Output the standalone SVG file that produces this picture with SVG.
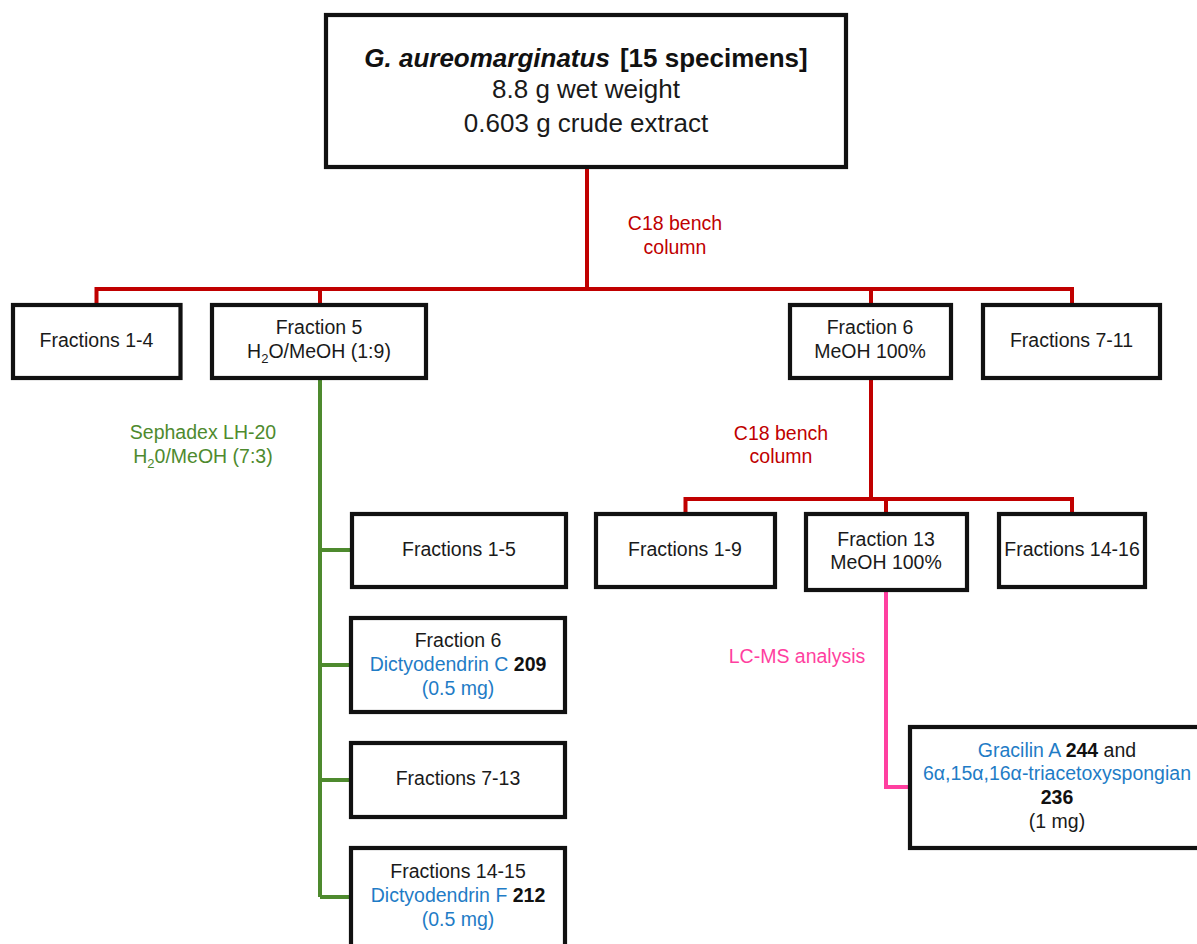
<svg xmlns="http://www.w3.org/2000/svg" width="1197" height="944" viewBox="0 0 1197 944">
  <style>
    text { font-family: "Liberation Sans", Arial, sans-serif; font-size: 19.5px; fill: #1a1a1a; text-anchor: middle; }
    .box { fill: #ffffff; stroke: #111111; stroke-width: 4.2; }
    .red { fill: none; stroke: #C00000; stroke-width: 4; }
    .green { fill: none; stroke: #4E8A2E; stroke-width: 4; }
    .pink { fill: none; stroke: #FF3FA0; stroke-width: 4; }
    .lred { fill: #C00000; }
    .lgreen { fill: #4E8A2E; }
    .lpink { fill: #FF3FA0; }
    .blue { fill: #1F7CC6; }
    .b { font-weight: bold; fill: #111111; }
    .title { font-size: 26px; }
  </style>
  <rect width="1197" height="944" fill="#ffffff"/>

  <!-- connectors -->
  <g id="connectors">
    <!-- first C18 column -->
    <path class="red" d="M587 169 V289 M96.5 306 V289 H1072 V306 M320 289 V306 M871 289 V306"/>
    <!-- second C18 column -->
    <path class="red" d="M871 380 V499 M685.5 516 V499 H1072 V516 M886 499 V516"/>
    <!-- Sephadex LH-20 -->
    <path class="green" d="M320 380 V897 M320 550 H352 M320 665 H352 M320 780 H352 M320 897 H352"/>
    <!-- LC-MS -->
    <path class="pink" d="M886 591 V787 H910"/>
  </g>

  <!-- edge labels -->
  <g id="labels">
    <text class="lred" x="675" y="230">C18 bench</text>
    <text class="lred" x="675" y="254">column</text>
    <text class="lgreen" x="203" y="439">Sephadex LH-20</text>
    <text class="lgreen" x="203" y="463">H<tspan font-size="13" dy="5">2</tspan><tspan dy="-5">0/MeOH (7:3)</tspan></text>
    <text class="lred" x="781" y="440">C18 bench</text>
    <text class="lred" x="781" y="463">column</text>
    <text class="lpink" x="797" y="663">LC-MS analysis</text>
  </g>

  <!-- source specimen -->
  <g id="specimen">
    <rect class="box" x="326" y="15" width="520" height="152"/>
    <text class="title b" x="586" y="67" font-size="25"><tspan font-style="italic">G. aureomarginatus</tspan><tspan dx="10">[15 specimens]</tspan></text>
    <text class="title" x="586" y="98">8.8 g wet weight</text>
    <text class="title" x="586" y="132">0.603 g crude extract</text>
  </g>

  <!-- first fractionation -->
  <g id="fr1-4">
    <rect class="box" x="13" y="305" width="167.5" height="73"/>
    <text x="96.5" y="347">Fractions 1-4</text>
  </g>
  <g id="fr5">
    <rect class="box" x="212" y="305" width="214" height="73"/>
    <text x="319" y="334">Fraction 5</text>
    <text x="319" y="358">H<tspan font-size="13" dy="5">2</tspan><tspan dy="-5">O/MeOH (1:9)</tspan></text>
  </g>
  <g id="fr6">
    <rect class="box" x="790" y="305" width="161" height="73"/>
    <text x="870" y="334">Fraction 6</text>
    <text x="870" y="358">MeOH 100%</text>
  </g>
  <g id="fr7-11">
    <rect class="box" x="983" y="305" width="177" height="73"/>
    <text x="1071.5" y="347">Fractions 7-11</text>
  </g>

  <!-- Sephadex fractions of fraction 5 -->
  <g id="s-fr1-5">
    <rect class="box" x="352" y="514" width="214" height="73"/>
    <text x="459" y="556">Fractions 1-5</text>
  </g>
  <g id="s-fr6">
    <rect class="box" x="351" y="618" width="214" height="94"/>
    <text x="458" y="647">Fraction 6</text>
    <text x="458" y="671"><tspan class="blue">Dictyodendrin C </tspan><tspan class="b">209</tspan></text>
    <text class="blue" x="458" y="695">(0.5 mg)</text>
  </g>
  <g id="s-fr7-13">
    <rect class="box" x="351" y="743" width="214" height="74"/>
    <text x="458" y="785">Fractions 7-13</text>
  </g>
  <g id="s-fr14-15">
    <rect class="box" x="351" y="848" width="214" height="120"/>
    <text x="458" y="878">Fractions 14-15</text>
    <text x="458" y="902"><tspan class="blue">Dictyodendrin F </tspan><tspan class="b">212</tspan></text>
    <text class="blue" x="458" y="926">(0.5 mg)</text>
  </g>

  <!-- C18 fractions of fraction 6 -->
  <g id="c-fr1-9">
    <rect class="box" x="596" y="514" width="179" height="73"/>
    <text x="685" y="556">Fractions 1-9</text>
  </g>
  <g id="c-fr13">
    <rect class="box" x="806" y="514" width="161" height="76"/>
    <text x="886" y="546">Fraction 13</text>
    <text x="886" y="569">MeOH 100%</text>
  </g>
  <g id="c-fr14-16">
    <rect class="box" x="999" y="514" width="146" height="73"/>
    <text x="1072" y="556">Fractions 14-16</text>
  </g>

  <!-- LC-MS result -->
  <g id="gracilin">
    <rect class="box" x="910" y="727" width="300" height="121"/>
    <text x="1057" y="757"><tspan class="blue">Gracilin A </tspan><tspan class="b">244</tspan> and</text>
    <text class="blue" x="1057" y="780">6α,15α,16α-triacetoxyspongian</text>
    <text class="b" x="1057" y="804">236</text>
    <text x="1057" y="828">(1 mg)</text>
  </g>
</svg>
